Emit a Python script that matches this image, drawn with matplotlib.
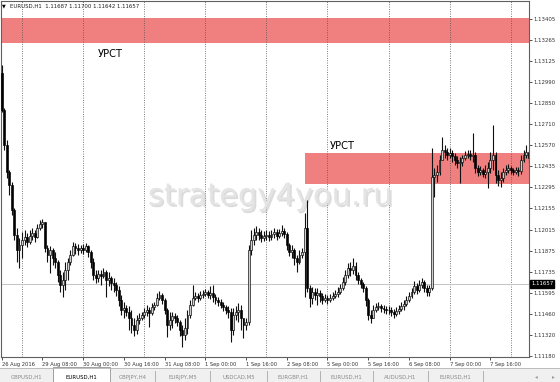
import numpy as np
import matplotlib
matplotlib.use('Agg')
import matplotlib.pyplot as plt
import matplotlib.patheffects as pe
from matplotlib.patches import Rectangle
from matplotlib.lines import Line2D
from matplotlib.transforms import blended_transform_factory

# EURUSD H1 candles, 26 Aug 2016 16:00 .. 8 Sep 2016 07:00 (prices in 1e-5 units)
first_open = 113048
close_pts = [
    112804, 112573, 112395, 112309, 112144, 111979, 111880, 111913,  # 26 Aug
    111946, 111966, 111933, 111972, 111992, 111966, 112025, 112052, 112065, 111893, 111847, 111880,
    111827, 111801, 111715, 111649, 111682, 111748, 111801, 111847, 111906, 111893, 111880, 111893,  # 29 Aug
    111880, 111906, 111867, 111801, 111715, 111695, 111722, 111708, 111735, 111682, 111695, 111662,
    111649, 111616, 111550, 111484, 111497, 111471, 111431, 111385, 111352, 111418, 111431, 111451,  # 30 Aug
    111471, 111484, 111464, 111504, 111517, 111563, 111583, 111550, 111484, 111385, 111418, 111444,
    111431, 111405, 111352, 111319, 111365, 111451, 111517, 111563, 111576, 111563, 111583, 111590,  # 31 Aug
    111603, 111583, 111596, 111570, 111550, 111537, 111517, 111504, 111484, 111471, 111352, 111451,
    111471, 111484, 111431, 111385, 111405, 111880, 111946, 111979, 111999, 111979, 111959, 111972,  # 1 Sep
    111979, 111966, 111986, 111999, 111972, 111992, 112005, 111986, 111913, 111867, 111880, 111827,
    111801, 111847, 111867, 112025, 111629, 111563, 111603, 111583, 111596, 111576, 111550, 111563,  # 2 Sep
    111550, 111563, 111576, 111590, 111603, 111629, 111669, 111715, 111761, 111748, 111774, 111715,
    111682, 111656, 111629, 111550, 111451, 111431, 111484, 111504, 111510, 111497, 111491, 111484,  # 5 Sep
    111484, 111471, 111458, 111477, 111491, 111510, 111524, 111550, 111576, 111603, 111642, 111616,
    111649, 111669, 111629, 111603, 111629, 112362, 112375, 112395, 112474, 112540, 112527, 112507,  # 6 Sep
    112520, 112500, 112474, 112454, 112461, 112487, 112507, 112514, 112500, 112507, 112421, 112395,
    112408, 112382, 112395, 112421, 112474, 112507, 112375, 112342, 112355, 112395, 112408, 112421,  # 7 Sep
    112408, 112395, 112408, 112401, 112474, 112507, 112527, 112487,  # 8 Sep
]
high_pts = [
    113101, 112817, 112606, 112408, 112329, 112157, 112025, 111959,
    111999, 112012, 111992, 112012, 112025, 112012, 112052, 112078, 112085, 112065, 111913, 111906,
    111893, 111867, 111814, 111748, 111735, 111801, 111827, 111880, 111933, 111926, 111920, 111913,
    111920, 111926, 111913, 111880, 111827, 111748, 111748, 111748, 111761, 111748, 111735, 111708,
    111695, 111669, 111642, 111583, 111537, 111517, 111510, 111484, 111431, 111451, 111464, 111471,
    111497, 111517, 111504, 111530, 111537, 111596, 111609, 111596, 111563, 111497, 111471, 111471,
    111464, 111451, 111418, 111385, 111431, 111484, 111550, 111649, 111603, 111596, 111609, 111616,
    111623, 111616, 111642, 111649, 111590, 111570, 111557, 111537, 111517, 111510, 111497, 111497,
    111510, 111530, 111517, 111431, 111431, 111913, 112012, 112025, 112038, 112025, 112012, 112005,
    112012, 112005, 112012, 112025, 112019, 112019, 112045, 112025, 111999, 111926, 111913, 111893,
    111847, 111880, 111893, 112124, 112210, 111649, 111636, 111629, 111629, 111616, 111596, 111590,
    111583, 111590, 111603, 111616, 111636, 111656, 111702, 111748, 111794, 111801, 111827, 111801,
    111735, 111695, 111669, 111642, 111563, 111484, 111517, 111530, 111537, 111524, 111517, 111510,
    111510, 111504, 111491, 111504, 111517, 111537, 111550, 111576, 111603, 111629, 111675, 111662,
    111682, 111695, 111682, 111649, 111649, 112553, 112421, 112441, 112507, 112626, 112573, 112553,
    112553, 112540, 112520, 112500, 112494, 112507, 112533, 112540, 112540, 112652, 112527, 112441,
    112434, 112421, 112441, 112461, 112527, 112705, 112527, 112408, 112395, 112421, 112441, 112448,
    112434, 112421, 112428, 112428, 112507, 112540, 112573, 112540,
]
low_pts = [
    112791, 112540, 112355, 112243, 112111, 111946, 111801, 111761,
    111827, 111913, 111900, 111920, 111946, 111933, 111959, 112012, 112025, 111867, 111801, 111728,
    111781, 111761, 111669, 111603, 111570, 111616, 111682, 111781, 111840, 111854, 111847, 111860,
    111854, 111867, 111834, 111761, 111682, 111662, 111669, 111649, 111695, 111570, 111642, 111616,
    111603, 111576, 111510, 111451, 111431, 111444, 111352, 111332, 111312, 111326, 111392, 111418,
    111431, 111444, 111372, 111451, 111484, 111510, 111550, 111524, 111458, 111306, 111352, 111365,
    111398, 111378, 111312, 111240, 111286, 111326, 111431, 111510, 111550, 111537, 111550, 111563,
    111576, 111563, 111557, 111537, 111524, 111510, 111497, 111477, 111458, 111431, 111273, 111319,
    111418, 111405, 111352, 111299, 111352, 111385, 111847, 111913, 111946, 111946, 111933, 111939,
    111946, 111939, 111946, 111959, 111946, 111959, 111972, 111959, 111880, 111840, 111827, 111781,
    111735, 111788, 111827, 111570, 111603, 111504, 111524, 111550, 111517, 111537, 111524, 111537,
    111524, 111537, 111550, 111563, 111570, 111590, 111616, 111649, 111695, 111708, 111722, 111682,
    111656, 111629, 111603, 111510, 111418, 111398, 111431, 111471, 111484, 111471, 111464, 111458,
    111458, 111444, 111431, 111444, 111458, 111477, 111484, 111510, 111537, 111563, 111590, 111590,
    111603, 111629, 111603, 111576, 111576, 111616, 112230, 112329, 112375, 112487, 112487, 112474,
    112487, 112461, 112441, 112421, 112322, 112434, 112474, 112487, 112474, 112461, 112388, 112368,
    112375, 112362, 112355, 112289, 112388, 112408, 112322, 112302, 112296, 112329, 112375, 112388,
    112382, 112375, 112382, 112368, 112382, 112461, 112487, 112454,
]

# axis labels
x_tick_bars = [0, 16, 32, 48, 64, 80, 96, 112, 128, 144, 160, 176, 192]
x_tick_labels = ["26 Aug 2016", "29 Aug 08:00", "30 Aug 00:00", "30 Aug 16:00", "31 Aug 08:00",
                 "1 Sep 00:00", "1 Sep 16:00", "2 Sep 08:00", "5 Sep 00:00", "5 Sep 16:00",
                 "6 Sep 08:00", "7 Sep 00:00", "7 Sep 16:00"]
day_start_bars = [8, 32, 56, 80, 104, 128, 152, 176, 200]
y_ticks = [1.13405, 1.13265, 1.13125, 1.12990, 1.12850, 1.12710, 1.12570, 1.12435, 1.12295,
           1.12155, 1.12015, 1.11875, 1.11735, 1.11595, 1.11460, 1.11320, 1.11180]
current_price = 1.11657
title_text = "EURUSD,H1  1.11687 1.11700 1.11642 1.11657"

# resistance zones (price bounds, start bar)
zone1 = (1.13246, 1.13411, -1)
zone2 = (1.12316, 1.12518, 119)
zone_label = "УРСТ"
tab_names = ["GBPUSD,H1", "EURUSD,H1", "GBPJPY,H4", "EURJPY,M5", "USDCAD,M5",
             "EURGBP,H1", "EURUSD,H1", "AUDUSD,H1", "EURUSD,H1"]

close = np.array(close_pts) / 1e5
high = np.array(high_pts) / 1e5
low = np.array(low_pts) / 1e5
opens = np.r_[first_open / 1e5, close[:-1]]
high = np.maximum(high, np.maximum(opens, close))
low = np.minimum(low, np.minimum(opens, close))
idx = np.arange(len(close))

W, H = 560, 382
fig = plt.figure(figsize=(W / 100, H / 100), dpi=100)
fig.patch.set_facecolor('white')
ax = fig.add_axes([1 / W, 1 - 357 / H, 528 / W, 356 / H])
ax.set_xlim(-0.25, 207.15)
ax.set_ylim(1.11174, 1.13523)

# zones
for lo, hi, start in (zone1, zone2):
    ax.add_patch(Rectangle((start, lo), 300, hi - lo, facecolor='#f08080', edgecolor='none', zorder=1))

# daily separators and current price line
for b in day_start_bars:
    ax.axvline(b, color='#505050', lw=0.6, ls=(0, (1, 1.8)), zorder=2)
ax.axhline(current_price, color='#c4c4c4', lw=0.7, zorder=2)

# watermark
ax.text(270 / W, 1 - 205 / H, "strategy4you.ru", transform=fig.transFigure, ha='center', va='baseline',
        fontsize=22, color='#e4e4e4', zorder=2.5,
        path_effects=[pe.withSimplePatchShadow(offset=(1.3, -1.3), shadow_rgbFace='#b0b0b0', alpha=0.45)])

# candles
up = close >= opens
ax.vlines(idx, low, high, color='#101010', lw=0.8, zorder=3)
ax.bar(idx[up], (close - opens)[up], bottom=opens[up], width=0.75, facecolor='#cfcfcf',
       edgecolor='black', lw=0.45, zorder=4)
ax.bar(idx[~up], (opens - close)[~up], bottom=close[~up], width=0.75, facecolor='black',
       edgecolor='black', lw=0.45, zorder=4)

# zone labels
ax.text(110 / W, 1 - 54 / H, zone_label, transform=fig.transFigure, ha='center', va='center',
        fontsize=7.2, color='black', zorder=5)
ax.text(342 / W, 1 - 146 / H, zone_label, transform=fig.transFigure, ha='center', va='center',
        fontsize=7.2, color='black', zorder=5)

# title
ax.text(4 / W, 1 - 6 / H, "▼", transform=fig.transFigure, ha='center', va='center', fontsize=3.5)
ax.text(10 / W, 1 - 6 / H, title_text, transform=fig.transFigure, ha='left', va='center',
        fontsize=3.9, color='#202020')

# axes styling
for s in ax.spines.values():
    s.set_color('#606060')
    s.set_linewidth(0.8)
ax.yaxis.tick_right()
ax.set_yticks(y_ticks, [f"{v:.5f}" for v in y_ticks])
ax.tick_params(axis='y', length=2, width=0.6, pad=1.5, labelsize=3.9, colors='#333333')
ax.set_xticks(x_tick_bars, x_tick_labels)
ax.tick_params(axis='x', length=2.5, width=0.6, pad=1, labelsize=3.7, colors='#333333')
for lbl in ax.get_xticklabels():
    lbl.set_ha('left')

# current price box
trans = blended_transform_factory(ax.transAxes, ax.transData)
ax.text(1 + 2 / 528, current_price, f"{current_price:.5f}", transform=trans, ha='left', va='center',
        fontsize=3.9, color='white', zorder=6,
        bbox=dict(boxstyle='square,pad=0.25', facecolor='black', edgecolor='black'))

# tab bar at the bottom
fig.patches.append(Rectangle((0, 0), 1, (H - 368) / H, transform=fig.transFigure,
                             facecolor='#f0f0f0', edgecolor='none', zorder=0))
fig.lines.append(Line2D([0, 1], [1 - 368 / H] * 2, transform=fig.transFigure, color='#b4b4b4', lw=0.6))
tab_edges = [0, 53, 110, 155, 210, 267, 320, 373, 428, 483]
fig.patches.append(Rectangle((53 / W, 0), 57 / W, (H - 367) / H, transform=fig.transFigure,
                             facecolor='white', edgecolor='#909090', lw=0.6, zorder=1))
for e in tab_edges[2:]:
    fig.lines.append(Line2D([e / W] * 2, [1 - 371 / H, 1 - 381 / H], transform=fig.transFigure,
                            color='#a8a8a8', lw=0.6))
for i, name in enumerate(tab_names):
    cx = (tab_edges[i] + tab_edges[i + 1]) / 2
    fig.text(cx / W, 1 - 377 / H, name, ha='center', va='center', fontsize=3.9,
             color='black' if i == 1 else '#8a8a8a')
fig.text(536 / W, 1 - 377 / H, "◂", ha='center', va='center', fontsize=4, color='#9a9a9a')
fig.text(553 / W, 1 - 377 / H, "▸", ha='center', va='center', fontsize=4, color='#9a9a9a')

fig.savefig("out.png", dpi=100)
